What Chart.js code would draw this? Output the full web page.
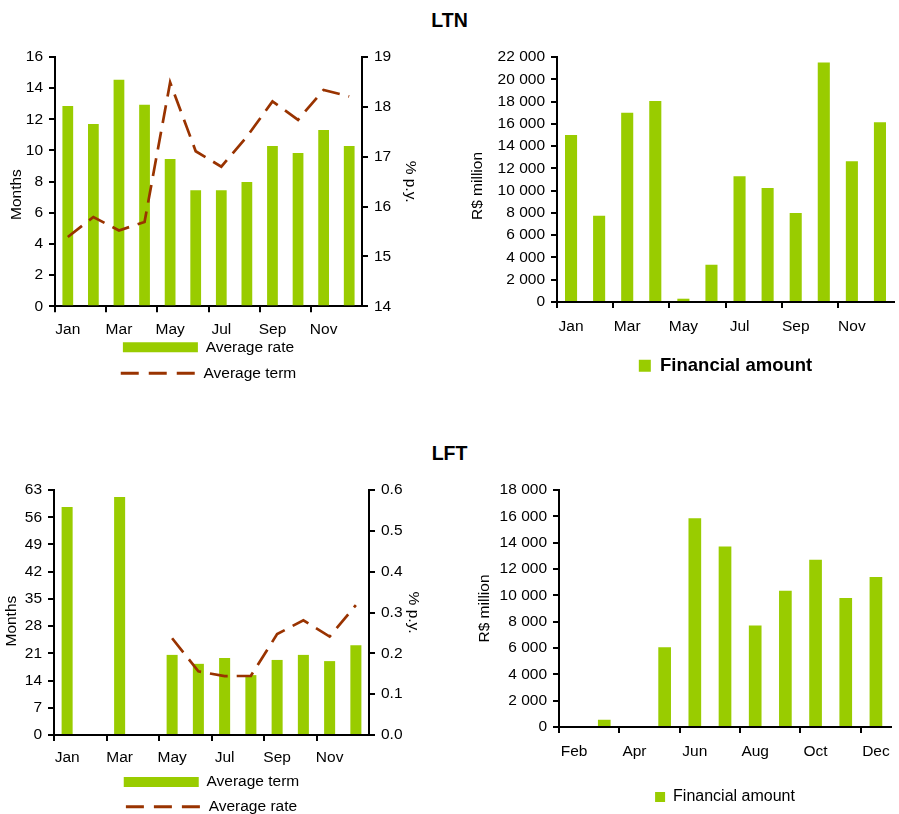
<!DOCTYPE html>
<html lang="en">
<head>
  <meta charset="UTF-8" />
  <title>LTN / LFT</title>
  <script src="https://cdn.jsdelivr.net/npm/chart.js"></script>
  <style>
    html, body { margin: 0; padding: 0; background: #fff; overflow: hidden; }
    body { width: 899px; height: 814px; position: relative; font-family: 'Liberation Sans', Arial, sans-serif; }
    .title { position: absolute; left: 0; width: 899px; text-align: center; font-weight: bold; font-size: 19.5px; line-height: 24px; color: #000; }
    .box { position: absolute; }
  </style>
</head>
<body>

  <div class="title" style="top:8px">LTN</div>
  <div class="title" style="top:441px">LFT</div>

  <div class="box" style="left:0;top:40px"><canvas id="c1" width="430" height="351"></canvas></div>
  <div class="box" style="left:440px;top:40px"><canvas id="c2" width="459" height="345"></canvas></div>
  <div class="box" style="left:0;top:470px"><canvas id="c3" width="430" height="356"></canvas></div>
  <div class="box" style="left:440px;top:470px"><canvas id="c4" width="459" height="345"></canvas></div>

  <script>
    const months = ['Jan', 'Feb', 'Mar', 'Apr', 'May', 'Jun', 'Jul', 'Aug', 'Sep', 'Oct', 'Nov', 'Dec'];

    // LTN
    const ltnRate = [12.86, 11.7, 14.54, 12.93, 9.45, 7.45, 7.45, 7.97, 10.29, 9.84, 11.32, 10.29];
    const ltnTerm = [15.39, 15.79, 15.52, 15.69, 18.49, 17.11, 16.80, 17.40, 18.11, 17.74, 18.34, 18.21];
    const ltnAmount = [15000, 7750, 17000, 18050, 300, 3350, 11300, 10250, 8000, 21500, 12650, 16150];

    // LFT
    const lftTerm = [58.6, null, 61.2, null, 20.6, 18.3, 19.8, 15.4, 19.3, 20.6, 19.0, 23.1];
    const lftRate = [null, null, null, null, 0.237, 0.156, 0.144, 0.145, 0.247, 0.281, 0.241, 0.318];
    const lftAmountMonths = ['Feb', 'Mar', 'Apr', 'May', 'Jun', 'Jul', 'Aug', 'Sep', 'Oct', 'Nov', 'Dec'];
    const lftAmount = [null, 550, null, 6050, 15850, 13700, 7700, 10350, 12700, 9800, 11400];

    const green = '#99cc00';
    const brown = '#993300';
    const nb = '\u00a0';

    Chart.defaults.font.family = "'Liberation Sans', Arial, sans-serif";
    Chart.defaults.font.size = 15.5;
    Chart.defaults.color = '#000';

    const thousands = v => String(v).replace(/\B(?=(\d{3})+(?!\d))/g, ' ');

    function xAxis(labels, pad, h) {
      return {
        offset: true,
        grid: { offset: true, drawOnChartArea: false, tickLength: 6, lineWidth: 2,
                color: c => c.index % 2 === 0 ? '#000' : 'rgba(0,0,0,0)' },
        border: { color: '#000', width: 2 },
        ticks: { autoSkip: false, maxRotation: 0, padding: pad,
                 callback: (v, i) => i % 2 === 0 ? labels[i] : '' },
        afterFit: s => { s.height = h; }
      };
    }

    function yAxis(pos, min, max, step, title, titlePad, width, fmt) {
      return {
        position: pos, min: min, max: max,
        grid: { drawOnChartArea: false, tickLength: 6, lineWidth: 2, color: '#000' },
        border: { color: '#000', width: 2 },
        ticks: { stepSize: step, padding: 6, callback: fmt },
        title: { display: true, text: title, padding: { top: titlePad, bottom: 0 } },
        afterFit: s => { s.width = width; }
      };
    }

    function barSet(label, data, pct) {
      return { type: 'bar', label: label, data: data, backgroundColor: green, borderWidth: 0,
               barPercentage: pct, categoryPercentage: 1, yAxisID: 'y', order: 1, pointStyle: 'rect' };
    }

    function lineSet(label, data) {
      return { type: 'line', label: label, data: data, borderColor: brown, backgroundColor: brown,
               borderWidth: 2.7, borderDash: [18, 9], pointRadius: 0, tension: 0, spanGaps: false,
               yAxisID: 'y1', order: 0, pointStyle: 'line' };
    }

    // two rows: a bar box and a dashed line, pulled up close to the month labels
    function comboLegend(pad, lift) {
      return {
        position: 'bottom', fullSize: false,
        title: { display: true, text: '', font: { size: 1, lineHeight: 1 }, padding: { top: 0, bottom: lift - 1 } },
        labels: {
          usePointStyle: true, pointStyleWidth: 75, boxHeight: 10, padding: pad,
          sort: (a, b) => a.datasetIndex - b.datasetIndex,
          generateLabels: chart => Chart.defaults.plugins.legend.labels.generateLabels(chart).map(item => {
            const ds = chart.data.datasets[item.datasetIndex];
            if (ds.type === 'line') {
              item.lineDash = [18, 10];
              item.lineWidth = 3;
              item.strokeStyle = ds.borderColor;
            }
            return item;
          })
        }
      };
    }

    // LTN term / rate
    new Chart(document.getElementById('c1'), {
      type: 'bar',
      data: {
        labels: months,
        datasets: [barSet('Average rate', ltnRate, 0.42), lineSet('Average term', ltnTerm)]
      },
      options: {
        responsive: false, animation: false,
        layout: { padding: { left: 0, right: 7, top: 17, bottom: 0 } },
        plugins: { legend: comboLegend(10.5, -9.25), tooltip: { enabled: false } },
        scales: {
          x: xAxis(months, 7.7, 32),
          y: yAxis('left', 0, 16, 2, 'Months' + nb.repeat(6), 7.7, 55),
          y1: yAxis('right', 14, 19, 1, '% p.y.', 3.7, 61)
        }
      }
    });

    // LTN financial amount
    new Chart(document.getElementById('c2'), {
      type: 'bar',
      data: { labels: months, datasets: [barSet('Financial amount', ltnAmount, 0.43)] },
      options: {
        responsive: false, animation: false,
        layout: { padding: { left: 0, right: 5, top: 17, bottom: 0 } },
        plugins: {
          legend: { position: 'bottom', fullSize: false,
                    labels: { boxWidth: 12, boxHeight: 12, padding: 14.45, font: { size: 18.5, weight: 'bold' } } },
          tooltip: { enabled: false }
        },
        scales: {
          x: xAxis(months, 9.7, 40),
          y: yAxis('left', 0, 22000, 2000, 'R$ million' + nb.repeat(3), 28.7, 117, thousands)
        }
      }
    });

    // LFT term / rate
    new Chart(document.getElementById('c3'), {
      type: 'bar',
      data: {
        labels: months,
        datasets: [barSet('Average term', lftTerm, 0.42), lineSet('Average rate', lftRate)]
      },
      options: {
        responsive: false, animation: false,
        layout: { padding: { left: 0, right: 4, top: 20, bottom: 1.55 } },
        plugins: { legend: comboLegend(9.2, -9.95), tooltip: { enabled: false } },
        scales: {
          x: xAxis(months, 7.2, 40),
          y: yAxis('left', 0, 63, 7, 'Months' + nb.repeat(4), 2.2, 54),
          y1: yAxis('right', 0, 0.6, 0.1, '% p.y.', 3.7, 57, v => v.toFixed(1))
        }
      }
    });

    // LFT financial amount
    new Chart(document.getElementById('c4'), {
      type: 'bar',
      data: { labels: lftAmountMonths, datasets: [barSet('Financial amount', lftAmount, 0.42)] },
      options: {
        responsive: false, animation: false,
        layout: { padding: { left: 0, right: 2, top: 20, bottom: 0 } },
        plugins: {
          legend: { position: 'bottom', fullSize: false,
                    labels: { boxWidth: 10, boxHeight: 10, padding: 22, font: { size: 16 } } },
          tooltip: { enabled: false }
        },
        scales: {
          x: xAxis(lftAmountMonths, 9.2, 40),
          y: yAxis('left', 0, 18000, 2000, 'R$ million', 35.7, 119, thousands)
        }
      }
    });
  </script>
</body>
</html>
